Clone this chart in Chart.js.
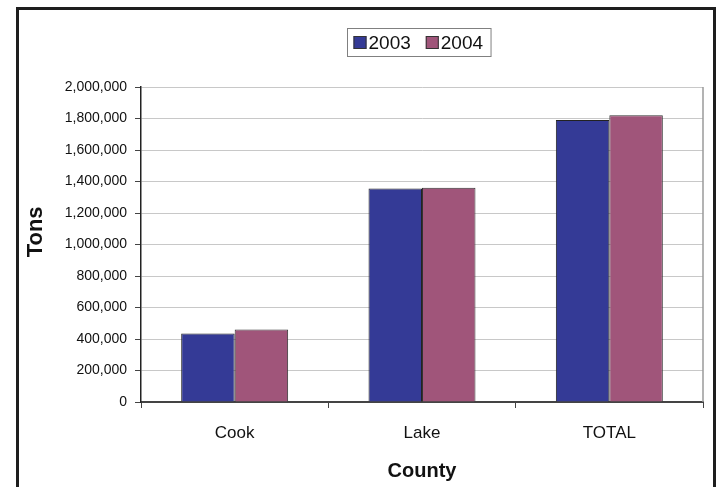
<!DOCTYPE html>
<html>
<head>
<meta charset="utf-8">
<title>Tons by County</title>
<script src="https://cdn.jsdelivr.net/npm/chart.js@4/dist/chart.umd.min.js"></script>
<style>
  html, body { margin: 0; padding: 0; background: #ffffff; }
  #wrap { width: 724px; height: 487px; position: relative; }
</style>
</head>
<body>
<div id="wrap"><canvas id="chart" width="724" height="487"></canvas></div>
<script>
// Tonnage by county, two years
const categories = ['Cook', 'Lake', 'TOTAL'];
const seriesNames = ['2003', '2004'];
const tons2003 = [435000, 1355000, 1790000];
const tons2004 = [460000, 1360000, 1820000];
const yMin = 0;
const yMax = 2000000;
const yStep = 200000;
const yTitle = 'Tons';
const xTitle = 'County';

const FONT = '"Liberation Sans", Arial, Helvetica, sans-serif';
const colors = ['#343A96', '#A0557A'];

// Outer frame, plot-area right edge, vertical axis title and boxed legend
const decorations = {
  id: 'decorations',
  afterDraw(chart) {
    const { ctx, chartArea } = chart;
    ctx.save();

    // plot area right border
    ctx.strokeStyle = '#9a9a9a';
    ctx.lineWidth = 1.5;
    ctx.beginPath();
    ctx.moveTo(chartArea.right, chartArea.top);
    ctx.lineTo(chartArea.right, chartArea.bottom);
    ctx.stroke();

    // outer frame (runs past the lower edge)
    ctx.strokeStyle = '#1e1e1e';
    ctx.lineWidth = 3;
    ctx.beginPath();
    ctx.moveTo(17.5, 520);
    ctx.lineTo(17.5, 8.5);
    ctx.lineTo(714.5, 8.5);
    ctx.lineTo(714.5, 520);
    ctx.stroke();

    // vertical axis title, set a little above the plot's middle
    ctx.save();
    ctx.translate(36, chartArea.top + (chartArea.bottom - chartArea.top) * 0.46);
    ctx.rotate(-Math.PI / 2);
    ctx.font = 'bold 22px ' + FONT;
    ctx.fillStyle = '#111111';
    ctx.textAlign = 'center';
    ctx.textBaseline = 'middle';
    ctx.fillText(yTitle, 0, 0);
    ctx.restore();

    // legend
    ctx.font = '19px ' + FONT;
    const sw = 13, gap = 2, itemGap = 15, padL = 6, padR = 8;
    const items = chart.data.datasets.map(d => ({
      text: d.label, color: d.backgroundColor, w: ctx.measureText(d.label).width
    }));
    const inner = items.reduce((s, it) => s + sw + gap + it.w, 0) + itemGap * (items.length - 1);
    const total = padL + inner + padR;
    const cx = (chartArea.left + chartArea.right) / 2 - 3;
    const x0 = Math.round(cx - total / 2) + 0.5;
    const y0 = 28.5, h = 28;
    ctx.strokeStyle = '#808080';
    ctx.lineWidth = 1;
    ctx.strokeRect(x0, y0, total, h);

    let x = x0 + padL;
    const midY = y0 + h / 2;
    ctx.textBaseline = 'middle';
    ctx.textAlign = 'left';
    items.forEach(it => {
      ctx.fillStyle = it.color;
      ctx.fillRect(x, midY - sw / 2, sw, sw);
      ctx.strokeStyle = '#333333';
      ctx.strokeRect(x + 0.5, midY - sw / 2 + 0.5, sw - 1, sw - 1);
      x += sw + gap;
      ctx.fillStyle = '#111111';
      ctx.fillText(it.text, x, midY + 1);
      x += it.w + itemGap;
    });
    ctx.restore();
  }
};

new Chart(document.getElementById('chart'), {
  type: 'bar',
  data: {
    labels: categories,
    datasets: [
      { label: seriesNames[0], data: tons2003, backgroundColor: colors[0],
        borderColor: '#222222', borderWidth: 1 },
      { label: seriesNames[1], data: tons2004, backgroundColor: colors[1],
        borderColor: '#333333', borderWidth: 1 }
    ]
  },
  options: {
    responsive: false,
    animation: false,
    devicePixelRatio: 1,
    layout: { padding: { left: 20, right: 21, top: 87, bottom: 0 } },
    datasets: { bar: { categoryPercentage: 0.571, barPercentage: 1.0 } },
    plugins: { legend: { display: false }, tooltip: { enabled: false } },
    scales: {
      x: {
        grid: { offset: true, drawOnChartArea: false, tickLength: 6, tickColor: '#444444', lineWidth: 1 },
        border: { color: '#444444', width: 2 },
        ticks: { font: { family: FONT, size: 17 }, color: '#111111', padding: 15 },
        title: { display: true, text: xTitle, color: '#111111',
                 font: { family: FONT, size: 20, weight: 'bold' }, padding: { top: 0, bottom: 4 } },
        afterFit(scale) { scale.height = 85; }
      },
      y: {
        min: yMin, max: yMax,
        grid: { color: '#c8c8c8', lineWidth: 1, tickLength: 6, tickColor: '#444444' },
        border: { color: '#222222', width: 1.5 },
        ticks: {
          stepSize: yStep,
          font: { family: FONT, size: 14 }, color: '#111111', padding: 8,
          callback: v => v.toLocaleString('en-US')
        },
        afterFit(scale) { scale.width = 121; }
      }
    }
  },
  plugins: [decorations]
});
</script>
</body>
</html>
